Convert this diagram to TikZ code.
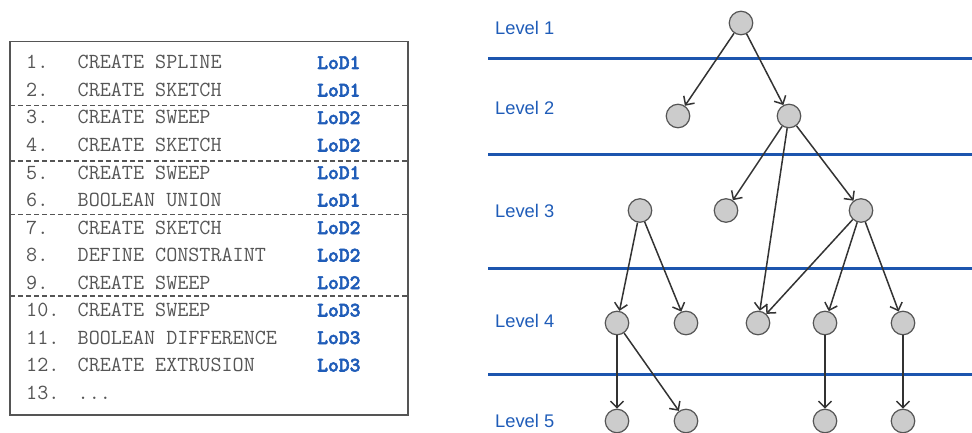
\documentclass[tikz,border=0pt]{standalone}
\usepackage{fontspec}
\newfontfamily\lvlfont{Liberation Sans}
\newfontfamily\lodfont{lmmonolt10-bold}[Extension=.otf,FakeBold=2.5]
\usetikzlibrary{arrows.meta}
\definecolor{txtgray}{HTML}{555555}
\definecolor{lodblue}{HTML}{1F5CB8}
\definecolor{lineblue}{HTML}{1C55AE}
\definecolor{nodegray}{HTML}{CCCCCC}
\definecolor{edgegray}{HTML}{333333}
\tikzset{
  cmd/.style={anchor=base west, inner sep=0, text=txtgray, font=\fontsize{21.5}{21.5}\selectfont\ttfamily},
  lod/.style={anchor=base west, inner sep=0, text=lodblue, font=\fontsize{20.6}{20.6}\selectfont\lodfont},
  lvl/.style={anchor=west, inner sep=0, text=lodblue, font=\fontsize{18.3}{18.3}\selectfont\lvlfont},
  sep/.style={dashed, dash pattern=on 5pt off 3pt, draw=txtgray, line width=1.1pt},
  band/.style={draw=lineblue, line width=3pt},
  tnode/.style={circle, fill=nodegray, draw=txtgray, line width=1.2pt, minimum size=23.5pt, inner sep=0},
  edge/.style={draw=edgegray, line width=1.5pt, -{Straight Barb[length=6.5pt,width=13pt]}}
}
\begin{document}
\begin{tikzpicture}[x=1pt,y=-1pt]
\useasboundingbox (0,0) rectangle (972,433);
% left box
\draw[draw=txtgray, line width=1.3pt] (10,41.5) rectangle (408,415);
\foreach \yy in {105.7,161,214.3,296} {\draw[sep] (10,\yy) -- (408,\yy);}
\foreach \n/\c/\l [count=\i from 0] in {
  1./CREATE SPLINE/LoD1,
  2./CREATE SKETCH/LoD1,
  3./CREATE SWEEP/LoD2,
  4./CREATE SKETCH/LoD2,
  5./CREATE SWEEP/LoD1,
  6./BOOLEAN UNION/LoD1,
  7./CREATE SKETCH/LoD2,
  8./DEFINE CONSTRAINT/LoD2,
  9./CREATE SWEEP/LoD2,
  10./CREATE SWEEP/LoD3,
  11./BOOLEAN DIFFERENCE/LoD3,
  12./CREATE EXTRUSION/LoD3} {
  \pgfmathsetmacro{\yb}{69+27.5*\i}
  \node[cmd] (num\i) at (26,\yb) {\n};
  \node[cmd] (cmd\i) at (77.5,\yb) {\c};
  \node[lod] (lod\i) at (317,\yb) {\l};
}
\node[cmd] (num12) at (26,399) {13.};
\node[cmd] (dots) at (77.5,399) {...};
% bands
\foreach \yy in {59,155,268,374} {\draw[band] (488,\yy) -- (972,\yy);}
\node[lvl] (lv1) at (495,28) {Level 1};
\node[lvl] (lv2) at (495,108) {Level 2};
\node[lvl] (lv3) at (495,211) {Level 3};
\node[lvl] (lv4) at (495,321) {Level 4};
\node[lvl] (lv5) at (495,421) {Level 5};
% tree nodes
\node[tnode] (r) at (741,23) {};
\node[tnode] (a1) at (678,116) {};
\node[tnode] (a2) at (789,116) {};
\node[tnode] (b1) at (640,210.5) {};
\node[tnode] (b2) at (726,210.5) {};
\node[tnode] (b3) at (861,210.5) {};
\node[tnode] (c1) at (617,323) {};
\node[tnode] (c2) at (686,323) {};
\node[tnode] (c3) at (758,323) {};
\node[tnode] (c4) at (825,323) {};
\node[tnode] (c5) at (903,323) {};
\node[tnode] (d1) at (617,421) {};
\node[tnode] (d2) at (686,421) {};
\node[tnode] (d4) at (825,421) {};
\node[tnode] (d5) at (903,421) {};
% edges
\draw[edge] (r) -- (a1);
\draw[edge] (r) -- (a2);
\draw[edge] (a2) -- (b2);
\draw[edge] (a2) -- (c3);
\draw[edge] (a2) -- (b3);
\draw[edge] (b1) -- (c1);
\draw[edge] (b1) -- (c2);
\draw[edge] (b3) -- (c3);
\draw[edge] (b3) -- (c4);
\draw[edge] (b3) -- (c5);
\draw[edge] (c1) -- (d1);
\draw[edge] (c1) -- (d2);
\draw[edge] (c4) -- (d4);
\draw[edge] (c5) -- (d5);
\end{tikzpicture}
\end{document}
